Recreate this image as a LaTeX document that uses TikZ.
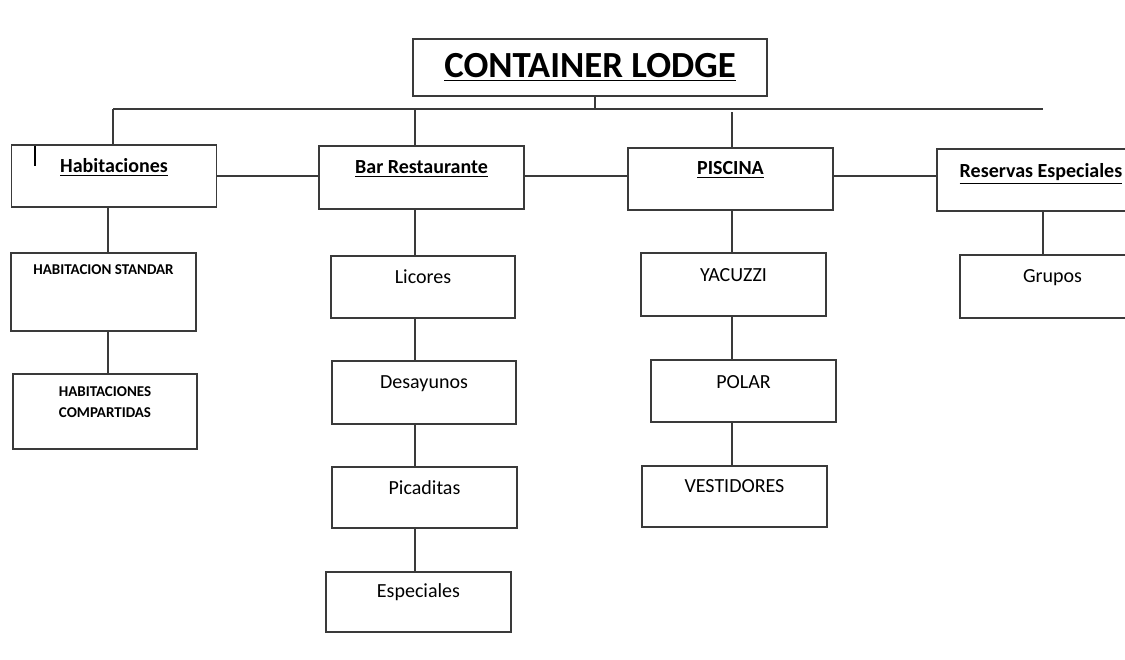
\documentclass[tikz,border=0pt]{standalone}
\usepackage{fontspec}
\setmainfont{Carlito}
\usetikzlibrary{positioning}
\definecolor{edge}{HTML}{3A3A3A}

\begin{document}
\begin{tikzpicture}[x=0.5pt,y=-0.5pt,font=\fontsize{10}{12}\selectfont,
  head/.style={draw=edge,line width=0.7pt,inner sep=0pt,minimum width=102.5pt,
               font=\fontsize{10}{12}\selectfont\bfseries,text height=13.5pt,text depth=#1},
  sub/.style={draw=edge,line width=0.7pt,inner sep=0pt,minimum width=92.5pt,
              text height=13.5pt,text depth=#1},
  caps/.style={font=\fontsize{7.5}{10.5}\selectfont\bfseries},
  ln/.style={draw=edge,line width=0.7pt}]
\useasboundingbox (0,0) rectangle (1125,659);
\clip (0,0) rectangle (1125,659);
\node[draw=edge,line width=0.7pt,inner sep=0pt,minimum width=177pt,
      font=\fontsize{18.4}{22}\selectfont\bfseries,text height=19pt,text depth=9.5pt]
      (title) at (590,67.5) {\underline{CONTAINER LODGE}};
% top row
\node[head=17.5pt] (hab) at (114,176) {\underline{Habitaciones}};
\node[head=18pt] (bar) at (421.5,177.5) {\underline{Bar Restaurante}};
\node[head=18pt,text height=13pt] (pisc) at (730.5,179) {\underline{PISCINA}};
\node[head=17pt,text height=14pt,minimum width=104pt] (res) at (1041,180) {\underline{Reservas Especiales}};
% columns
\node[sub=28.5pt,text height=10.5pt,caps] (std) at (103.5,292) {HABITACION STANDAR};
\node[sub=26.5pt,text height=11pt,caps,minimum width=92pt] (comp) at (105,411.5)
      {\begin{tabular}[t]{@{}c@{}}HABITACIONES\\COMPARTIDAS\end{tabular}};
\node[sub=17.5pt,minimum width=92pt] (lic) at (423,287) {Licores};
\node[sub=18pt,minimum width=92pt] (des) at (424,392.5) {Desayunos};
\node[sub=17pt] (pic) at (424.5,497.5) {Picaditas};
\node[sub=17.5pt,text height=12.5pt] (esp) at (418.5,602) {Especiales};
\node[sub=17.5pt,text height=14pt] (yac) at (733.5,284.5) {YACUZZI};
\node[sub=17pt,text height=14pt] (pol) at (743.5,391) {POLAR};
\node[sub=17.5pt,text height=13pt] (ves) at (734.5,496.5) {VESTIDORES};
\node[sub=17.75pt,text height=13.75pt] (gru) at (1052.5,286.5) {Grupos};
% bus and stems
\coordinate (bh) at (113,109); \coordinate (bt) at (595,109);
\coordinate (bb) at (415,109); \coordinate (bp) at (732,109);
\coordinate (be) at (1043,109);
\coordinate (ch) at (108,0); \coordinate (cr) at (1043,0);
\draw[ln] (bh) -- (be);
\draw[ln] (title.south -| bt) -- (bt);
\draw[ln] (bh) -- (hab.north -| bh); \draw[ln] (bb) -- (bar.north -| bb);
\draw[ln] ([yshift=-1.5pt]bp) -- (pisc.north -| bp);
\draw[ln] (hab.east) -- (hab.east -| bar.west);
\draw[ln] (hab.east -| bar.east) -- (hab.east -| pisc.west);
\draw[ln] (hab.east -| pisc.east) -- (hab.east -| res.west);
\draw[ln] (hab.south -| ch) -- (std.north -| ch); \draw[ln] (std.south -| ch) -- (comp.north -| ch);
\draw[ln] (bar.south -| bb) -- (lic.north -| bb); \draw[ln] (lic.south -| bb) -- (des.north -| bb);
\draw[ln] (des.south -| bb) -- (pic.north -| bb); \draw[ln] (pic.south -| bb) -- (esp.north -| bb);
\draw[ln] (pisc.south -| bp) -- (yac.north -| bp); \draw[ln] (yac.south -| bp) -- (pol.north -| bp);
\draw[ln] (pol.south -| bp) -- (ves.north -| bp);
\draw[ln] (res.south -| cr) -- (gru.north -| cr);
% stray mark
\draw[line width=1.2pt] ([xshift=12pt,yshift=-1pt]hab.north west) -- ++(0,-10pt);
\end{tikzpicture}
\end{document}
